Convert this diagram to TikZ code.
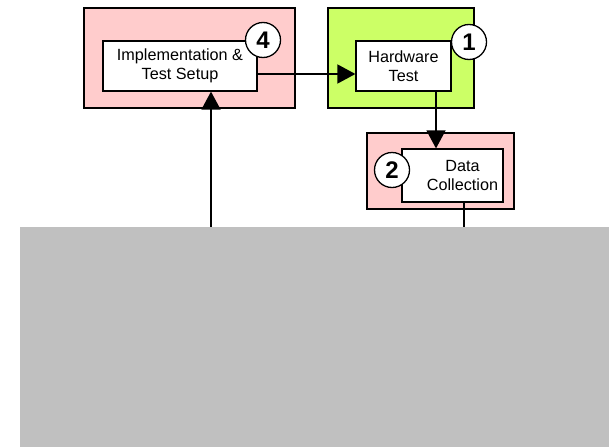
\documentclass[tikz,border=0pt]{standalone}
\usepackage{fontspec}
\setmainfont{Liberation Sans}
\usepackage{tikz}
\usetikzlibrary{arrows.meta,positioning,calc}

\definecolor{stagepink}{RGB}{255,204,204}
\definecolor{stagegreen}{RGB}{204,255,102}
\definecolor{panelgray}{RGB}{192,192,192}

\begin{document}
\begin{tikzpicture}[x=1pt,y=-1pt,
  stage/.style={draw=black,line width=1.2pt,inner sep=0pt},
  tbox/.style={draw=black,fill=white,line width=1.2pt,align=center,inner sep=0pt,
               font=\fontsize{16.2}{18.5}\selectfont},
  num/.style={circle,draw=black,fill=white,line width=1.3pt,minimum size=35pt,
              inner sep=0pt,font=\fontsize{24}{24}\selectfont\bfseries},
  sig/.style={-{Triangle[length=18pt,width=19pt]},draw=black,line width=1.5pt},
  plain/.style={draw=black,line width=1.5pt}]

\useasboundingbox (0,0) rectangle (609,447);

% outer stage boxes
\node[stage,fill=stagepink,minimum width=211pt,minimum height=100pt] (setupbg) at (189.5,58) {};
\node[stage,fill=stagegreen,minimum width=146pt,minimum height=100pt] (hwbg) at (401,58) {};
\node[stage,fill=stagepink,minimum width=147pt,minimum height=76pt] (databg) at (440.5,171) {};

% big gray panel
\node[fill=panelgray,minimum width=589pt,minimum height=220pt,inner sep=0pt] (panel) at (314.5,337) {};

% inner text boxes
\node[tbox,minimum width=154pt,minimum height=50pt] (setup) at (180,66) {Implementation \&\\Test Setup};
\node[tbox,minimum width=95pt,minimum height=50pt] (hwtest) at (403.5,66) {Hardware\\Test};
\node[tbox,minimum width=101pt,minimum height=53pt] (datacoll) at (452.5,175.5) {\hspace*{20pt}Data\\\hspace*{20pt}Collection};

% step numbers
\node[num] (n4) at (263,40) {4};
\node[num] (n1) at (469,42) {1};
\node[num] (n2) at (392,170) {2};

% connectors
\draw[sig] ([yshift=-8pt]setup.east) -- ([yshift=-8pt]hwtest.west);
\draw[sig] ([xshift=32.5pt]hwtest.south) -- ([xshift=32.5pt]hwtest.south |- datacoll.north);
\draw[plain] ([xshift=11.5pt]datacoll.south) -- ([xshift=11.5pt]datacoll.south |- panel.north);
\draw[sig] ([xshift=31pt]setup.south |- panel.north) -- ([xshift=31pt]setup.south);

\end{tikzpicture}
\end{document}
